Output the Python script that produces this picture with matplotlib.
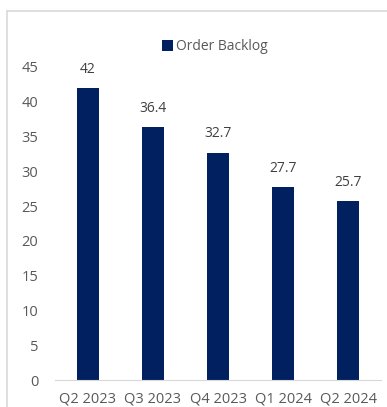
import matplotlib
matplotlib.use("Agg")
import matplotlib.pyplot as plt
from matplotlib.lines import Line2D
from matplotlib.patches import Patch

categories = ["Q2 2023", "Q3 2023", "Q4 2023", "Q1 2024", "Q2 2024"]
backlog = [42, 36.4, 32.7, 27.7, 25.7]
labels = ["42", "36.4", "32.7", "27.7", "25.7"]
yticks = [0, 5, 10, 15, 20, 25, 30, 35, 40, 45]

BAR = "#002060"
TXT = "#595959"
plt.rcParams['font.family'] = ['Open Sans', 'DejaVu Sans']

W, H = 387, 407
fig = plt.figure(figsize=(W/100, H/100), dpi=100)
ax = fig.add_axes([55/W, (H-380)/H, (381-55)/W, (380-67)/H])

x = list(range(len(categories)))
ax.bar(x, backlog, width=0.34, color=BAR, zorder=2)
for xi, v, lab in zip(x, backlog, labels):
    ax.annotate(lab, (xi, v), xytext=(0, 8), textcoords="offset points",
                ha="center", va="bottom", fontsize=10, color="#404040")

ax.set_xlim(-0.5, len(categories)-0.5)
ax.set_ylim(0, 45)
ax.set_yticks(yticks)
ax.set_yticklabels([str(t) for t in yticks])
ax.set_xticks(x)
ax.set_xticklabels(categories)
ax.tick_params(axis='both', length=0, labelsize=10.5, labelcolor=TXT)
ax.tick_params(axis='y', pad=12)
ax.tick_params(axis='x', pad=8)
for s in ["top", "right", "left"]:
    ax.spines[s].set_visible(False)
ax.spines["bottom"].set_color("#D9D9D9")
ax.spines["bottom"].set_zorder(3)
ax.set_facecolor("none")

fig.legend(handles=[Patch(facecolor=BAR, label="Order Backlog")],
           loc="center", bbox_to_anchor=(215/W, (H-47)/H), frameon=False,
           fontsize=10, labelcolor=TXT, handlelength=0.8, handleheight=0.8,
           handletextpad=0.2)

# chart border (left and top)
fig.add_artist(Line2D([6.5/W, 6.5/W], [0, (H-10.5)/H], color="#D9D9D9", lw=1.2, transform=fig.transFigure))
fig.add_artist(Line2D([6.5/W, 1], [(H-10.5)/H, (H-10.5)/H], color="#D9D9D9", lw=1.2, transform=fig.transFigure))

fig.savefig("out.png", dpi=100)
